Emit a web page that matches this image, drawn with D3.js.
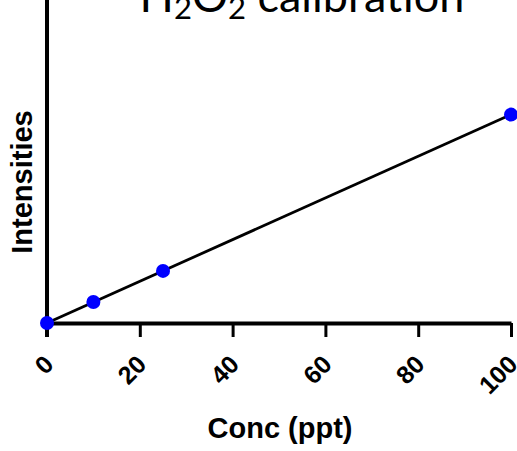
<!DOCTYPE html>
<html>
<head>
<meta charset="utf-8">
<script src="https://cdn.jsdelivr.net/npm/d3@7"></script>
<style>
  body { margin: 0; background: #fff; }
  svg { display: block; }
</style>
</head>
<body>
<svg id="chart"></svg>
<script>
const conc = [0, 10, 25, 100];
const intensity = [0, 10100, 25000, 100000];
const xTicks = [0, 20, 40, 60, 80, 100];
const fitLine = [[0, 0], [100, 100000]];

const W = 517, H = 451;
const x0 = 47, x1 = 511, yBase = 323;

const svg = d3.select("#chart").attr("width", W).attr("height", H);

const x = d3.scaleLinear().domain([0, 100]).range([x0, x1]);
const y = d3.scaleLinear().domain([0, 155000]).range([yBase, yBase - 323]);

// title (clipped at top like the reference)
const title = svg.append("text")
  .attr("x", 302).attr("y", 12)
  .attr("text-anchor", "middle")
  .style("font-family", "Lato, 'Open Sans', sans-serif")
  .style("font-size", "45px")
  .attr("fill", "#000");
title.append("tspan").text("H");
title.append("tspan").attr("dy", 7).style("font-size", "31px").text("2");
title.append("tspan").attr("dy", -7).text("O");
title.append("tspan").attr("dy", 7).style("font-size", "31px").text("2");
title.append("tspan").attr("dy", -7).text(" calibration");

// x axis
const xAxis = svg.append("g").attr("transform", `translate(0,${yBase})`)
  .call(d3.axisBottom(x).tickValues(xTicks).tickSize(14).tickSizeOuter(0).tickFormat(""));
xAxis.select(".domain").attr("stroke", "#000").attr("stroke-width", 4);
xAxis.selectAll(".tick line").attr("stroke", "#000").attr("stroke-width", 3);

svg.append("g").selectAll("text").data(xTicks).join("text")
  .attr("transform", d => `translate(${x(d) + 8},${yBase + 43}) rotate(-45)`)
  .attr("text-anchor", "end")
  .style("font-family", "'Liberation Sans', Arial, sans-serif")
  .style("font-weight", "bold")
  .style("font-size", "25px")
  .text(d => d);

// y axis (no ticks)
svg.append("line")
  .attr("x1", x0).attr("x2", x0).attr("y1", 0).attr("y2", yBase + 14)
  .attr("stroke", "#000").attr("stroke-width", 4);

// axis titles
svg.append("text")
  .attr("transform", `translate(32,182) rotate(-90)`)
  .attr("text-anchor", "middle")
  .style("font-family", "'Liberation Sans', Arial, sans-serif")
  .style("font-weight", "bold")
  .style("font-size", "29px")
  .text("Intensities");

svg.append("text")
  .attr("x", 280).attr("y", 438)
  .attr("text-anchor", "middle")
  .style("font-family", "'Liberation Sans', Arial, sans-serif")
  .style("font-weight", "bold")
  .style("font-size", "29px")
  .text("Conc (ppt)");

// fit line
svg.append("path")
  .datum(fitLine)
  .attr("d", d3.line().x(d => x(d[0])).y(d => y(d[1])))
  .attr("stroke", "#000").attr("stroke-width", 2.8).attr("fill", "none");

// points
svg.append("g").selectAll("circle").data(conc).join("circle")
  .attr("cx", d => x(d))
  .attr("cy", (d, i) => y(intensity[i]))
  .attr("r", 7)
  .attr("fill", "#0000ff");
</script>
</body>
</html>
